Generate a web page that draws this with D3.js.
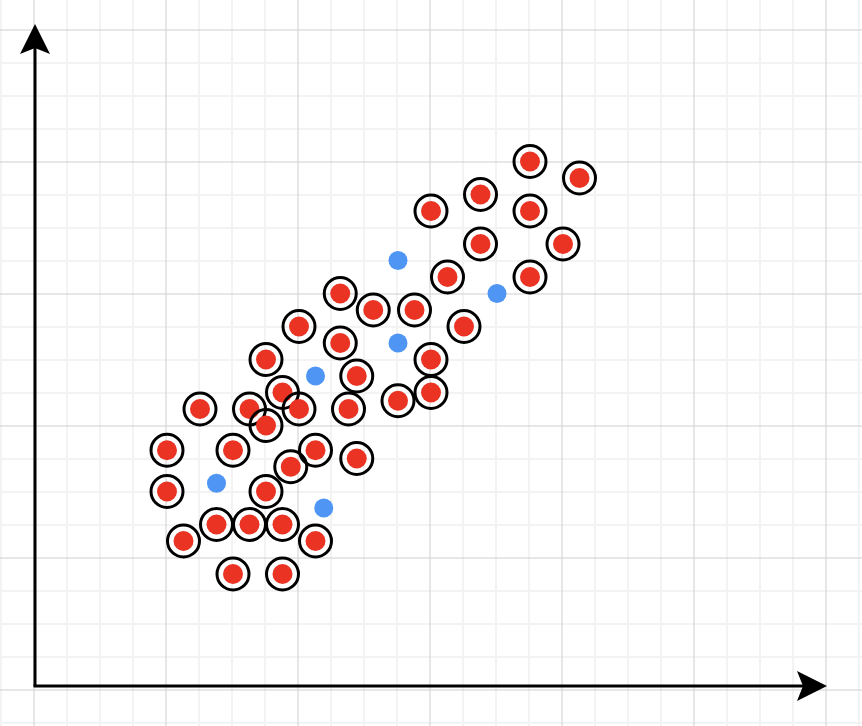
<!DOCTYPE html>
<html>
<head>
<meta charset="utf-8">
<script src="https://cdn.jsdelivr.net/npm/d3@7"></script>
<style>
  html, body { margin: 0; padding: 0; background: #fff; }
  svg { display: block; }
</style>
</head>
<body>
<div id="canvas"></div>
<script>
// Global var.
var width = 862;
var height = 726;

// data (grid units)
var ringX = [15, 16.5, 13.5, 12, 15, 13.5, 16, 12.5, 15, 9.25, 10.25, 11.5, 8, 13, 9.25, 7, 12, 9.75, 7.5, 12,
             5, 6.5, 8, 9.5, 11, 7, 4, 6, 8.5, 9.75, 7.75, 4, 7, 5.5, 6.5, 7.5, 4.5, 8.5, 6, 7.5];
var ringY = [16, 15.5, 15, 14.5, 14.5, 13.5, 13.5, 12.5, 12.5, 12, 11.5, 11.5, 11, 11, 10.5, 10, 10, 9.5, 9, 9,
             8.5, 8.5, 8.5, 8.5, 8.75, 8, 7.25, 7.25, 7.25, 7, 6.75, 6, 6, 5, 5, 5, 4.5, 4.5, 3.5, 3.5];
var blueX = [11, 14, 11, 8.5, 5.5, 8.75];
var blueY = [13, 12, 10.5, 9.5, 6.25, 5.5];

var x = d3.scaleLinear().domain([0, 24]).range([34, 826]);
var y = d3.scaleLinear().domain([0, 20]).range([690, 30]);
// points sit a hair off the grid lines
var px = d3.scaleLinear().domain([0, 24]).range([35, 827]);
var py = d3.scaleLinear().domain([0, 20]).range([689.5, 29.5]);

var svg = d3.select("div#canvas").append("svg")
    .attr("width", width)
    .attr("height", height);

// grid
var gx = d3.range(-1, 26);
var gy = d3.range(-1, 22);
var grid = svg.append("g");
grid.selectAll("line.vx")
    .data(gx.filter(function(t){ return t % 4 != 0; }))
    .enter().append("line")
    .attr("x1", function(d){ return x(d); }).attr("x2", function(d){ return x(d); })
    .attr("y1", 0).attr("y2", height)
    .attr("stroke", "#f3f3f3").attr("stroke-width", 2);
grid.selectAll("line.hy")
    .data(gy.filter(function(t){ return t % 4 != 0; }))
    .enter().append("line")
    .attr("y1", function(d){ return y(d); }).attr("y2", function(d){ return y(d); })
    .attr("x1", 0).attr("x2", width)
    .attr("stroke", "#f3f3f3").attr("stroke-width", 2);
grid.selectAll("line.mx")
    .data(gx.filter(function(t){ return t % 4 == 0; }))
    .enter().append("line")
    .attr("x1", function(d){ return x(d); }).attr("x2", function(d){ return x(d); })
    .attr("y1", 0).attr("y2", height)
    .attr("stroke", "#cfcfcf").attr("stroke-width", 1);
grid.selectAll("line.my")
    .data(gy.filter(function(t){ return t % 4 == 0; }))
    .enter().append("line")
    .attr("y1", function(d){ return y(d); }).attr("y2", function(d){ return y(d); })
    .attr("x1", 0).attr("x2", width)
    .attr("stroke", "#cfcfcf").attr("stroke-width", 1);

// axes
var ox = x(0) + 1, oy = y(0) - 4;
var tipX = x(24) + 1, tipY = 24;
svg.append("line")
    .attr("x1", ox).attr("y1", oy).attr("x2", ox).attr("y2", tipY + 24)
    .attr("stroke", "#000").attr("stroke-width", 3);
svg.append("line")
    .attr("x1", ox - 1.5).attr("y1", oy).attr("x2", tipX - 24).attr("y2", oy)
    .attr("stroke", "#000").attr("stroke-width", 3);
svg.append("path")
    .attr("d", "M" + ox + "," + tipY + "L" + (ox + 15) + "," + (tipY + 30) + "L" + ox + "," + (tipY + 24) +
               "L" + (ox - 15) + "," + (tipY + 30) + "Z")
    .attr("fill", "#000");
svg.append("path")
    .attr("d", "M" + tipX + "," + oy + "L" + (tipX - 30) + "," + (oy - 15) + "L" + (tipX - 24) + "," + oy +
               "L" + (tipX - 30) + "," + (oy + 15) + "Z")
    .attr("fill", "#000");

// points
var pts = svg.append("g");
ringX.forEach(function(v, i){
    pts.append("circle")
        .attr("cx", px(v)).attr("cy", py(ringY[i]))
        .attr("r", 10)
        .attr("fill", "#ea3323");
    pts.append("circle")
        .attr("cx", px(v)).attr("cy", py(ringY[i]))
        .attr("r", 16)
        .attr("fill", "none")
        .attr("stroke", "#000").attr("stroke-width", 3);
});
blueX.forEach(function(v, i){
    pts.append("circle")
        .attr("cx", px(v)).attr("cy", py(blueY[i]))
        .attr("r", 9.5)
        .attr("fill", "#4e95f4");
});
</script>
</body>
</html>
